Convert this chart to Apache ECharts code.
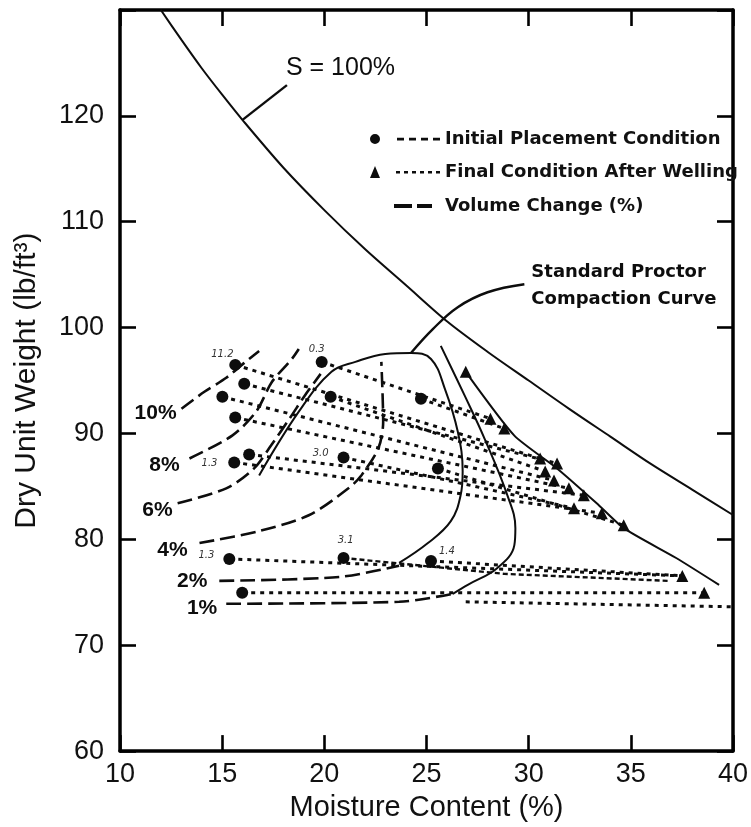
<!DOCTYPE html>
<html><head><meta charset="utf-8">
<script src="https://cdn.jsdelivr.net/npm/echarts@6/dist/echarts.min.js"></script>
<style>html,body{margin:0;padding:0;background:#fff}#c{width:751px;height:827px}</style>
</head><body><div id="c"></div>
<script>
// ---- data ----
const xTicks = [10, 15, 20, 25, 30, 35, 40];
const yTicks = [60, 70, 80, 90, 100, 110, 120];

const saturationLine = [[12,130],[13,127.2],[14,124.5],[15,122],[16,119.6],[18,115.1],[20,111.1],[22,107.4],[24,104],[26,100.6],[28,97.7],[30,95],[32,92.3],[34,89.7],[36,87.1],[38,84.7],[40,82.3]];
const proctorCurve = [[16.81,86.04],[18.75,92.06],[20.35,95.82],[21.52,96.76],[22.98,97.51],[24.24,97.61],[25.22,97.04],[25.90,94.22],[26.53,90.18],[26.77,86.42],[26.67,84.16],[26.19,81.72],[25.07,79.65],[23.66,77.77]];
const wetSideCurve = [[25.70,98.27],[26.87,93.57],[27.84,89.52],[28.96,84.16],[29.35,81.06],[29.30,79.46],[28.47,77.30],[27.02,75.70],[26.29,74.86]];
const finalLine = [[26.92,95.82],[29.30,89.80],[31.39,86.70],[33.33,83.41],[34.65,81.06],[37.22,78.24],[39.32,75.70]];

const vc10 = [[13.01,92.34],[14.13,93.94],[15.20,95.26],[16.08,96.67],[16.81,97.80]];
const vc8  = [[13.40,87.64],[15.49,89.80],[16.66,92.06],[17.44,94.88],[18.41,97.04],[18.75,97.98]];
const vc6  = [[12.82,83.41],[15.20,84.82],[16.56,86.70],[17.39,88.86],[18.36,91.59],[19.04,93.57],[19.82,95.63]];
const vc4  = [[13.89,79.65],[16.81,80.78],[19.24,82.28],[21.18,84.82],[21.81,86.04],[22.64,88.58],[22.88,91.12],[22.79,96.76]];
const vc2  = [[14.86,76.08],[20.74,76.45],[23.66,77.5]];
const vc1  = [[15.20,73.92],[23.66,74.10],[26.29,74.86]];
const wavyLine = [[20.94,78.24],[28.81,76.74],[36.84,76.08]];
const bottomDotted = [[26.92,74.10],[39.95,73.63]];

const initialPoints = [[15.64,96.48],[16.08,94.69],[15.01,93.47],[15.64,91.50],[16.32,88.02],[15.59,87.27],[19.87,96.76],[20.31,93.47],[20.94,87.74],[24.73,93.28],[25.56,86.70],[15.35,78.15],[20.94,78.24],[25.22,77.96],[15.98,74.95]];
const finalPoints = [[26.92,95.82],[28.13,91.40],[28.81,90.46],[30.56,87.64],[31.39,87.17],[30.81,86.42],[31.24,85.57],[31.97,84.82],[32.70,84.16],[32.22,82.94],[33.58,82.47],[34.65,81.34],[37.52,76.55],[38.59,74.95]];
const pairs = [[6,1],[9,2],[0,3],[1,4],[7,5],[2,6],[3,7],[8,9],[4,8],[5,10],[10,11],[11,12],[13,12],[14,13]];

const sLeader = [[15.98,119.6],[18.17,122.9]];
const proctorLeader = [[24.24,97.6],[25.31,99.86],[26.53,101.93],[27.99,103.34],[29.79,104.1]];

const sLabel = [[20.79,124.5,'S = 100%']];
const proctorLabel = [[30.13,105.22,'Standard Proctor'],[30.13,102.69,'Compaction Curve']];
const percentLabels = [[12.77,91.87,'10%'],[12.92,86.98,'8%'],[12.58,82.75,'6%'],[13.31,78.99,'4%'],[14.28,76.08,'2%'],[14.76,73.54,'1%']];
const pointNotes = [[15.01,97.51,'11.2'],[19.63,97.98,'0.3'],[19.82,88.11,'3.0'],[14.38,87.17,'1.3'],[14.23,78.52,'1.3'],[21.04,79.93,'3.1'],[26.0,78.9,'1.4']];

// ---- chart ----
const INK = '#0d0d0d';
const chart = echarts.init(document.getElementById('c'));

function textSeries(arr, labelStyle) {
  return {
    type: 'scatter', symbolSize: 0, silent: true, z: 20, xAxisIndex: 0, yAxisIndex: 0,
    itemStyle: { opacity: 1 },
    data: arr.map(a => ({ value: [a[0], a[1]], name: a[2] })),
    label: Object.assign({ show: true, formatter: '{b}', position: [0, 0], color: INK, opacity: 1 }, labelStyle)
  };
}
function lineSeries(name, data, style, extra) {
  return Object.assign({
    type: 'line', name: name, data: data, symbol: 'none', silent: true, z: 3,
    lineStyle: Object.assign({ color: INK, width: 2, opacity: 1 }, style)
  }, extra || {});
}
const contourStyle = { width: 2.6, type: [15, 6] };

const series = [
  lineSeries('S = 100%', saturationLine, { width: 2 }, { smooth: 0.3 }),
  lineSeries('sLeader', sLeader, { width: 2.4 }),
  lineSeries('Standard Proctor Compaction Curve', proctorCurve, { width: 2 }, { smooth: 0.4 }),
  lineSeries('proctorLeader', proctorLeader, { width: 2.4 }, { smooth: 0.4 }),
  lineSeries('wetSide', wetSideCurve, { width: 2 }, { smooth: 0.4 }),
  lineSeries('finalLine', finalLine, { width: 2 }, { smooth: 0.2 }),
  lineSeries('Volume Change (%)', vc10, contourStyle, { smooth: 0.3 }),
  lineSeries('Volume Change (%)', vc8, contourStyle, { smooth: 0.3 }),
  lineSeries('Volume Change (%)', vc6, contourStyle, { smooth: 0.3 }),
  lineSeries('Volume Change (%)', vc4, contourStyle, { smooth: 0.3 }),
  lineSeries('Volume Change (%)', vc2, contourStyle, { smooth: 0.3 }),
  lineSeries('Volume Change (%)', vc1, contourStyle, { smooth: 0.3 }),
  lineSeries('wavy', wavyLine, { width: 2.4, type: [5, 3] }),
  lineSeries('bottomDotted', bottomDotted, { width: 3, type: [4, 5] })
];
pairs.forEach(p => {
  series.push(lineSeries('connector', [initialPoints[p[0]], finalPoints[p[1]]], { width: 3, type: [4, 5] }, { z: 2 }));
});
series.push({
  type: 'scatter', name: 'Initial Placement Condition', data: initialPoints, symbol: 'circle', symbolSize: 12,
  itemStyle: { color: INK, opacity: 1 }, z: 6, silent: true
});
series.push({
  type: 'scatter', name: 'Final Condition After Welling', data: finalPoints, symbol: 'triangle', symbolSize: 12,
  itemStyle: { color: INK, opacity: 1 }, z: 6, silent: true
});
series.push(textSeries(sLabel, { fontFamily: 'Liberation Sans', fontSize: 25, align: 'center', verticalAlign: 'middle' }));
series.push(textSeries(proctorLabel, { fontFamily: 'DejaVu Sans', fontWeight: 'bold', fontSize: 18, align: 'left', verticalAlign: 'middle' }));
series.push(textSeries(percentLabels, { fontFamily: 'Liberation Sans', fontWeight: 'bold', fontSize: 21, align: 'right', verticalAlign: 'middle' }));
series.push(textSeries(pointNotes, { fontFamily: 'DejaVu Sans', fontStyle: 'italic', fontSize: 10, align: 'center', verticalAlign: 'middle', color: '#333' }));

const legendText = { fontFamily: 'DejaVu Sans', fontWeight: 'bold', fontSize: 18, color: '#111' };
const iconInitial = 'path://M0 7a5 5 0 1 0 10 0a5 5 0 1 0 -10 0Z M27 5.8h7v2.6h-7Z M39 5.8h7v2.6h-7Z M51 5.8h7v2.6h-7Z M63 5.8h7v2.6h-7Z';
const iconFinal = 'path://M0 13L5 1L10 13Z M26 6h4v2.4h-4Z M34 6h4v2.4h-4Z M42 6h4v2.4h-4Z M50 6h4v2.4h-4Z M58 6h4v2.4h-4Z M66 6h4v2.4h-4Z';
const iconVolume = 'path://M0 5h18v4h-18Z M23 5h15v4h-15Z M45.99 7h0.01v0.01h-0.01Z';

const axisLine = { show: true, onZero: false, lineStyle: { color: '#000', width: 3.5 } };
const axisTick = { show: true, inside: true, length: 16, lineStyle: { color: '#000', width: 2.6 } };
const tickFont = { fontFamily: 'Liberation Sans', fontSize: 27, color: '#111' };

chart.setOption({
  animation: false,
  backgroundColor: '#fff',
  grid: { left: 120, right: 14, top: 10, bottom: 73, containLabel: false },
  legend: [
    { data: ['Initial Placement Condition'], left: 365, top: 125, itemWidth: 70, itemHeight: 14, icon: iconInitial, symbolKeepAspect: true, textStyle: legendText, itemStyle: { color: INK, opacity: 1 }, selectedMode: false },
    { data: ['Final Condition After Welling'], left: 365, top: 158, itemWidth: 70, itemHeight: 14, icon: iconFinal, symbolKeepAspect: true, textStyle: legendText, itemStyle: { color: INK, opacity: 1 }, selectedMode: false },
    { data: ['Volume Change (%)'], left: 389, top: 192, itemWidth: 46, itemHeight: 14, icon: iconVolume, symbolKeepAspect: true, textStyle: legendText, itemStyle: { color: INK, opacity: 1 }, selectedMode: false }
  ],
  xAxis: [
    {
      type: 'value', min: xTicks[0], max: xTicks[xTicks.length - 1], interval: 5, position: 'bottom',
      name: 'Moisture Content (%)', nameLocation: 'middle', nameGap: 40,
      nameTextStyle: { fontFamily: 'Liberation Sans', fontSize: 29, color: '#111' },
      axisLine: axisLine, axisTick: axisTick, splitLine: { show: false },
      axisLabel: Object.assign({ margin: 10 }, tickFont)
    },
    {
      type: 'value', min: xTicks[0], max: xTicks[xTicks.length - 1], interval: 5, position: 'top',
      axisLine: axisLine, axisTick: axisTick, splitLine: { show: false }, axisLabel: { show: false }
    }
  ],
  yAxis: [
    {
      type: 'value', min: yTicks[0], max: 130, interval: 10, position: 'left',
      name: 'Dry Unit Weight (lb/ft³)', nameLocation: 'middle', nameGap: 78,
      nameTextStyle: { fontFamily: 'Liberation Sans', fontSize: 30, color: '#111' },
      axisLine: axisLine, axisTick: axisTick, splitLine: { show: false },
      axisLabel: Object.assign({ margin: 16, formatter: v => (yTicks.indexOf(v) >= 0 ? String(v) : '') }, tickFont)
    },
    {
      type: 'value', min: yTicks[0], max: 130, interval: 10, position: 'right',
      axisLine: axisLine, axisTick: axisTick, splitLine: { show: false }, axisLabel: { show: false }
    }
  ],
  series: series
});
</script>
</body></html>
